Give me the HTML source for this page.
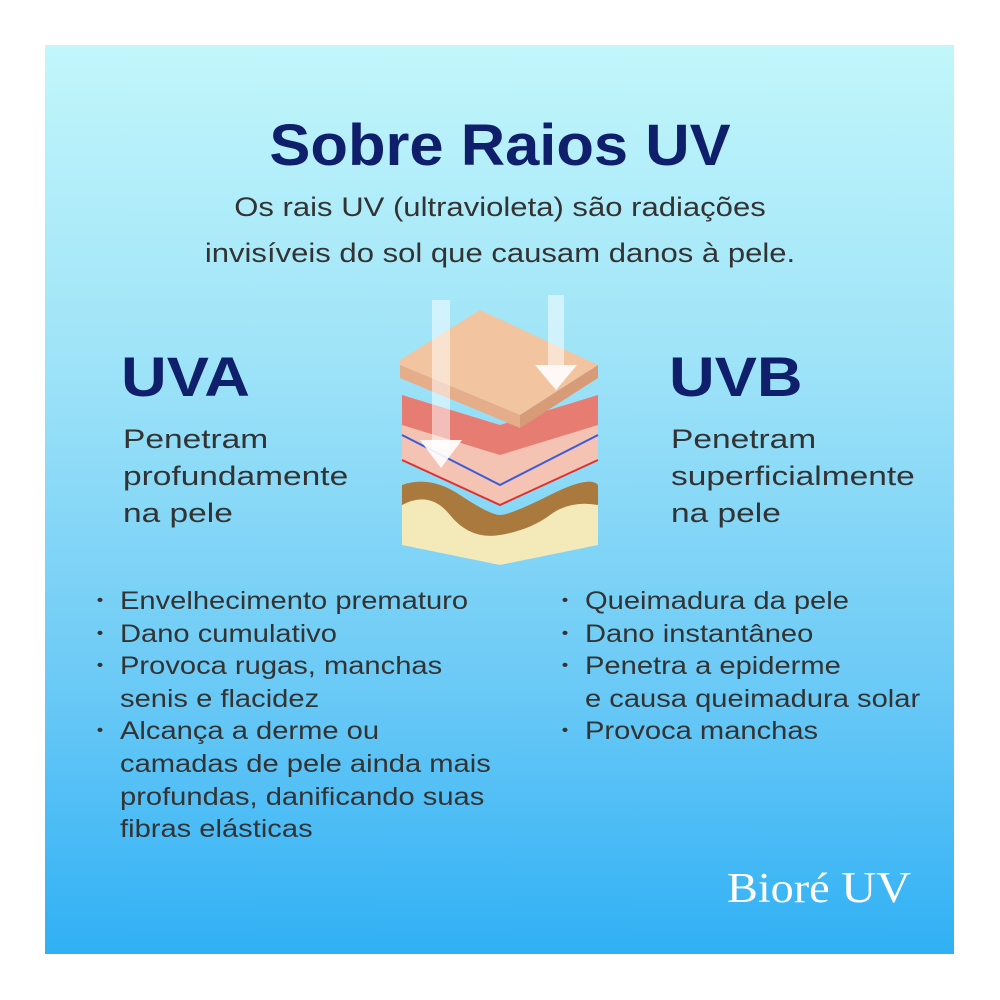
<!DOCTYPE html>
<html><head><meta charset="utf-8"><style>
body{margin:0;width:1000px;height:1000px;background:#fff;position:relative;overflow:hidden;font-family:"Liberation Sans",sans-serif}
#p{position:absolute;left:45px;top:45px;width:909px;height:909px;background:linear-gradient(180deg,#c2f6fb 0%,#9ee3f8 35%,#6ccaf6 70%,#30b0f5 100%)}
.t{position:absolute;white-space:nowrap;transform-origin:0 0}
h1{position:absolute;left:0;width:1000px;top:112px;margin:0;text-align:center;font-size:58px;font-weight:bold;color:#0f1f6c;transform:scaleX(1.06)}
.sub{left:0;width:1000px;text-align:center;font-size:27px;color:#333;transform-origin:50% 0;transform:scaleX(1.15)}
.big{font-size:56px;font-weight:bold;color:#0f1f6c;transform:scaleX(1.13)}
.pen{font-size:27px;color:#333;line-height:37px;transform:scaleX(1.24)}
ul{position:absolute;margin:0;padding:0;list-style:none;font-size:25px;color:#333;line-height:32.6px;transform-origin:0 0;transform:scaleX(1.165);white-space:nowrap}
li{position:relative}
li:before{content:"•";position:absolute;left:-20px;font-size:16px}
</style></head><body>
<div id="p"></div>
<h1>Sobre Raios UV</h1>
<div class="t sub" style="top:192px">Os rais UV (ultravioleta) são radiações</div>
<div class="t sub" style="top:238px">invisíveis do sol que causam danos à pele.</div>
<div class="t big" style="left:121px;top:344px">UVA</div>
<div class="t big" style="left:669px;top:344px">UVB</div>
<div class="t pen" style="left:123px;top:421px">Penetram<br>profundamente<br>na pele</div>
<div class="t pen" style="left:671px;top:421px">Penetram<br>superficialmente<br>na pele</div>
<ul style="left:120px;top:585px"><li>Envelhecimento prematuro</li><li>Dano cumulativo</li><li>Provoca rugas, manchas<br>senis e flacidez</li><li>Alcança a derme ou<br>camadas de pele ainda mais<br>profundas, danificando suas<br>fibras elásticas</li></ul>
<ul style="left:585px;top:585px"><li>Queimadura da pele</li><li>Dano instantâneo</li><li>Penetra a epiderme<br>e causa queimadura solar</li><li>Provoca manchas</li></ul>
<div class="t" style="left:727px;top:862px;font-family:'Liberation Serif',serif;font-size:42px;color:#fff;transform:scaleX(1.1)">Bioré <span style="font-size:44px">UV</span></div>
<svg style="position:absolute;left:380px;top:290px" width="240" height="280" viewBox="0 0 240 280">
<polygon points="22,195 120,240 218,195 218,255 120,275 22,255" fill="#f4e9b8"/>
<path d="M22,195 Q50,185 80,205 T120,225 T170,205 T218,195 L218,215 Q190,210 170,225 T120,245 T70,225 T22,215Z" fill="#a9793e"/>
<polygon points="22,105 120,135 218,105 218,170 120,215 22,170" fill="#f4c3b3"/>
<polygon points="22,105 120,135 218,105 218,135 120,165 22,135" fill="#e77c72"/>
<path d="M22,145 L120,195 L218,145" stroke="#3b5bd8" stroke-width="2" fill="none"/>
<path d="M22,170 L120,215 L218,170" stroke="#e03030" stroke-width="2" fill="none"/>
<polygon points="20,70 100,20 218,75 140,125 20,75" fill="#f2c4a0"/>
<polygon points="20,75 140,125 140,138 20,88" fill="#e6ad8a"/>
<polygon points="140,125 218,75 218,88 140,138" fill="#d89b78"/>
<rect x="52" y="10" width="18" height="150" fill="#fff" opacity="0.5"/>
<polygon points="40,150 82,150 61,178" fill="#fff" opacity="0.9"/>
<rect x="168" y="5" width="16" height="70" fill="#fff" opacity="0.5"/>
<polygon points="155,75 197,75 176,100" fill="#fff" opacity="0.9"/>
</svg>
</body></html>
